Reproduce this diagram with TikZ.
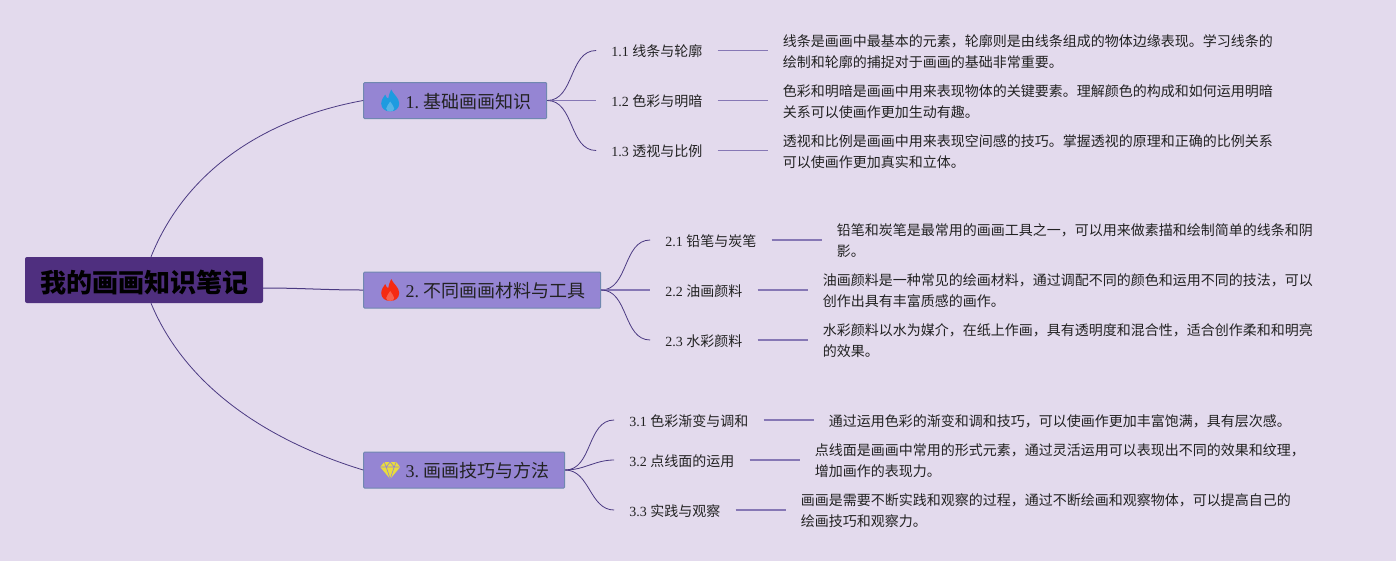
\documentclass[tikz,border=0pt]{standalone}
\usepackage{fontspec}
\setmainfont{Liberation Serif}
\newfontfamily\cjk{Noto Sans CJK SC}
\usetikzlibrary{positioning}
\definecolor{bgcol}{HTML}{E3DAED}
\definecolor{rootcol}{HTML}{4F2F7F}
\definecolor{topiccol}{HTML}{9585D3}
\definecolor{topicline}{HTML}{7088B0}
\definecolor{curvecol}{HTML}{4B3A82}
\definecolor{stemcol}{HTML}{8677B5}
\definecolor{inkcol}{HTML}{222222}
\definecolor{flameblue}{HTML}{1E9BE0}
\definecolor{flamered}{HTML}{F52A12}
\definecolor{gemyellow}{HTML}{E9DC3C}
\frenchspacing

\tikzset{
    rootbox/.style={fill=rootcol, rounded corners=2pt, minimum width=238pt, minimum height=46pt, inner sep=0pt,
        font=\cjk\bfseries\fontsize{26pt}{30pt}\selectfont, text=black},
    topicbox/.style={fill=topiccol, draw=topicline, line width=1pt, rounded corners=1pt, minimum height=36pt,
        inner ysep=0pt, inner xsep=15pt, text height=17pt, text depth=2pt,
        font=\fontsize{18pt}{22pt}\selectfont, text=inkcol},
    sublabel/.style={inner xsep=15pt, inner ysep=2pt, text height=14pt, text depth=2pt,
        font=\fontsize{14pt}{18pt}\selectfont, text=inkcol},
    subtext/.style={inner xsep=15pt, inner ysep=2pt, align=left, yshift=-1pt,
        font=\cjk\fontsize{14pt}{21pt}\selectfont, text=inkcol},
    branch/.style={curvecol, line width=0.8pt, out=0, in=180},
    stem/.style={stemcol, line width=1.5pt},
    flameicon/.pic={
        \fill[pic actions] (1,-11) .. controls (3,-6) and (9,-3) .. (9,3) .. controls (9,8) and (5,11) .. (0,11)
            .. controls (-5,11) and (-9,8) .. (-9,3) .. controls (-9,-1) and (-6,-4) .. (-5,-6)
            .. controls (-4,-3) and (-3,-2) .. (-2,-2) .. controls (-1,-5) and (-1,-8) .. (1,-11) -- cycle;
        \fill[white, opacity=0.25] (0,1) .. controls (1,4) and (4,5) .. (4,8) .. controls (4,10) and (2,11) .. (0,11)
            .. controls (-2,11) and (-4,10) .. (-4,8) .. controls (-4,5) and (-1,4) .. (0,1) -- cycle;
    },
    gemicon/.pic={
        \fill[pic actions] (-6,-8) -- (6,-8) -- (10,-3) -- (0,9) -- (-10,-3) -- cycle;
        \draw[topiccol, line width=0.6pt] (-10,-3) -- (10,-3) (-6,-8) -- (-4,-3) -- (0,-8) -- (4,-3) -- (6,-8)
            (-4,-3) -- (0,9) -- (4,-3);
    }
}

\begin{document}
\begin{tikzpicture}[x=1pt, y=-1pt]
    \useasboundingbox (0,0) rectangle (1396,560);
    \fill[bgcol] (-3,-3) rectangle (1399,563);

    % centre and main topics
    \node[rootbox] (root) at (144,280) {\raisebox{0pt}[24pt][0pt]{我的画画知识笔记}};
    \node[topicbox, right=100pt of root, yshift=179.5pt] (t1) {\hspace*{27pt}1. {\cjk 基础画画知识}};
    \node[topicbox, right=100pt of root, yshift=-10pt] (t2) {\hspace*{27pt}2. {\cjk 不同画画材料与工具}};
    \node[topicbox, right=100pt of root, yshift=-190pt] (t3) {\hspace*{27pt}3. {\cjk 画画技巧与方法}};

    \pic[flameblue] at ([xshift=27pt]t1.west) {flameicon};
    \pic[flamered] at ([xshift=27pt]t2.west) {flameicon};
    \pic[gemyellow] at ([xshift=27pt]t3.west) {gemicon};

    % topic 1
    \node[sublabel, right=49pt of t1, yshift=50pt] (s11) {1.1 {\cjk 线条与轮廓}};
    \node[sublabel, right=49pt of t1] (s12) {1.2 {\cjk 色彩与明暗}};
    \node[sublabel, right=49pt of t1, yshift=-50pt] (s13) {1.3 {\cjk 透视与比例}};
    \node[subtext, right=50pt of s11] (d11) {线条是画画中最基本的元素，轮廓则是由线条组成的物体边缘表现。学习线条的\\绘制和轮廓的捕捉对于画画的基础非常重要。};
    \node[subtext, right=50pt of s12] (d12) {色彩和明暗是画画中用来表现物体的关键要素。理解颜色的构成和如何运用明暗\\关系可以使画作更加生动有趣。};
    \node[subtext, right=50pt of s13] (d13) {透视和比例是画画中用来表现空间感的技巧。掌握透视的原理和正确的比例关系\\可以使画作更加真实和立体。};

    % topic 2
    \node[sublabel, right=49pt of t2, yshift=50pt] (s21) {2.1 {\cjk 铅笔与炭笔}};
    \node[sublabel, right=49pt of t2] (s22) {2.2 {\cjk 油画颜料}};
    \node[sublabel, right=49pt of t2, yshift=-50pt] (s23) {2.3 {\cjk 水彩颜料}};
    \node[subtext, right=50pt of s21] (d21) {铅笔和炭笔是最常用的画画工具之一，可以用来做素描和绘制简单的线条和阴\\影。};
    \node[subtext, right=50pt of s22] (d22) {油画颜料是一种常见的绘画材料，通过调配不同的颜色和运用不同的技法，可以\\创作出具有丰富质感的画作。};
    \node[subtext, right=50pt of s23] (d23) {水彩颜料以水为媒介，在纸上作画，具有透明度和混合性，适合创作柔和和明亮\\的效果。};

    % topic 3
    \node[sublabel, right=49pt of t3, yshift=50pt] (s31) {3.1 {\cjk 色彩渐变与调和}};
    \node[sublabel, right=49pt of t3, yshift=10pt] (s32) {3.2 {\cjk 点线面的运用}};
    \node[sublabel, right=49pt of t3, yshift=-40pt] (s33) {3.3 {\cjk 实践与观察}};
    \node[subtext, right=50pt of s31] (d31) {通过运用色彩的渐变和调和技巧，可以使画作更加丰富饱满，具有层次感。};
    \node[subtext, right=50pt of s32] (d32) {点线面是画画中常用的形式元素，通过灵活运用可以表现出不同的效果和纹理，\\增加画作的表现力。};
    \node[subtext, right=50pt of s33] (d33) {画画是需要不断实践和观察的过程，通过不断绘画和观察物体，可以提高自己的\\绘画技巧和观察力。};

    % connectors
    \coordinate (rootup) at ([xshift=7pt]root.north);
    \coordinate (rootdown) at ([xshift=7pt]root.south);
    \coordinate (rootmid) at ([yshift=-8pt]root.east);
    \draw[branch] (rootup) .. controls ([shift={(39pt,97pt)}]rootup) and ([shift={(-83pt,-15pt)}]t1.west) .. (t1.west);
    \draw[branch] (rootdown) .. controls ([shift={(34pt,-82pt)}]rootdown) and ([shift={(-98pt,30pt)}]t3.west) .. (t3.west);
    \path (rootmid) edge[branch, line width=1pt] (t2.west);

    \path (t1.east) edge[branch] (s11.west);
    \path (t1.east) edge[stem] (s12.west);
    \path (t1.east) edge[branch] (s13.west);
    \path (t2.east) edge[branch] (s21.west);
    \path (t2.east) edge[stem] (s22.west);
    \path (t2.east) edge[branch] (s23.west);
    \path (t3.east) edge[branch] (s31.west);
    \path (t3.east) edge[branch] (s32.west);
    \path (t3.east) edge[branch] (s33.west);

    \path (s11.east) edge[stem] (s11.east -| d11.west);
    \path (s12.east) edge[stem] (s12.east -| d12.west);
    \path (s13.east) edge[stem] (s13.east -| d13.west);
    \path (s21.east) edge[stem] (s21.east -| d21.west);
    \path (s22.east) edge[stem] (s22.east -| d22.west);
    \path (s23.east) edge[stem] (s23.east -| d23.west);
    \path (s31.east) edge[stem] (s31.east -| d31.west);
    \path (s32.east) edge[stem] (s32.east -| d32.west);
    \path (s33.east) edge[stem] (s33.east -| d33.west);
\end{tikzpicture}
\end{document}
